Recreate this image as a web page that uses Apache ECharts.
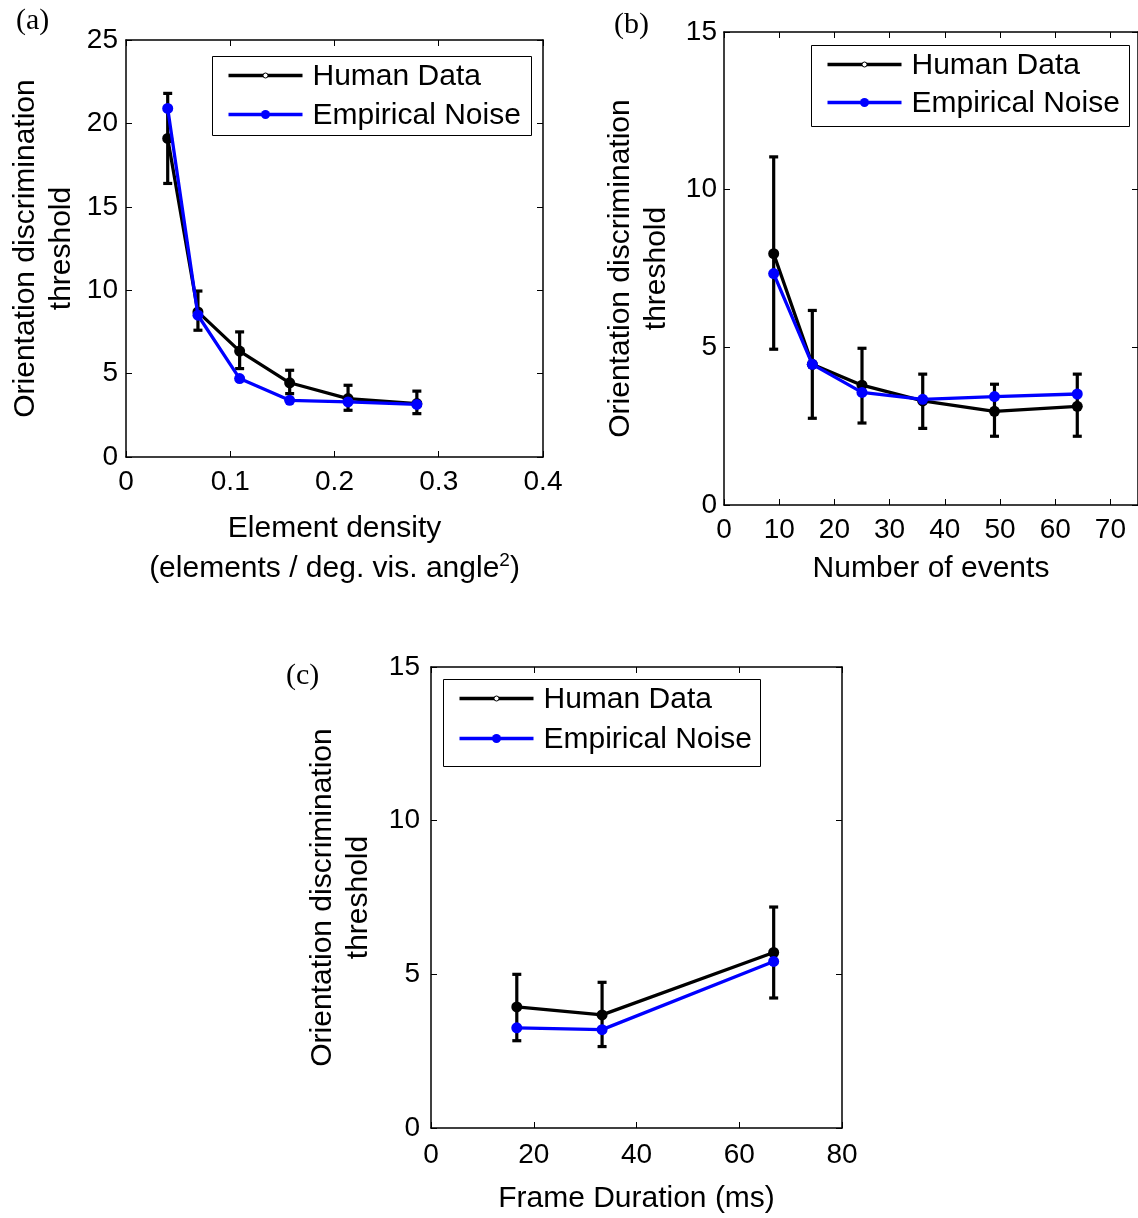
<!DOCTYPE html>
<html>
<head>
<meta charset="utf-8">
<script src="https://cdn.jsdelivr.net/npm/echarts@6/dist/echarts.min.js"></script>
<style>
html,body{margin:0;padding:0;background:#fff;}
#chart{width:1138px;height:1218px;}
</style>
</head>
<body>
<div id="chart"></div>
<script>
// ---------- Panel (a): element density ----------
const aDensity   = [0.040, 0.069, 0.109, 0.157, 0.213, 0.279];
const aHuman     = [19.1, 8.7, 6.35, 4.45, 3.5, 3.2];
const aHumanLow  = [16.4, 7.6, 5.3, 3.8, 2.8, 2.6];
const aHumanHigh = [21.8, 9.95, 7.5, 5.2, 4.3, 3.95];
const aNoise     = [20.9, 8.5, 4.7, 3.4, 3.3, 3.15];

// ---------- Panel (b): number of events ----------
const bEvents    = [9, 16, 25, 36, 49, 64];
const bHuman     = [7.97, 4.46, 3.8, 3.3, 2.97, 3.13];
const bHumanLow  = [4.94, 2.75, 2.6, 2.43, 2.18, 2.18];
const bHumanHigh = [11.04, 6.17, 4.97, 4.15, 3.83, 4.15];
const bNoise     = [7.34, 4.46, 3.57, 3.35, 3.44, 3.52];

// ---------- Panel (c): frame duration ----------
const cDuration  = [16.7, 33.3, 66.7];
const cHuman     = [3.94, 3.68, 5.71];
const cHumanLow  = [2.84, 2.65, 4.23];
const cHumanHigh = [5.0, 4.74, 7.19];
const cNoise     = [3.26, 3.2, 5.42];

// ---------- Text ----------
const seriesNames = ['Human Data', 'Empirical Noise'];
const panelLabels = ['(a)', '(b)', '(c)'];
const yTitle = 'Orientation discrimination\nthreshold';
const xTitles = [
  'Element density\n(elements / deg. vis. angle{sup|2})',
  'Number of events',
  'Frame Duration (ms)'
];

const SANS = '"Liberation Sans", Arial, Helvetica, sans-serif';
const SERIF = '"Liberation Serif", "Times New Roman", serif';
const BLUE = '#0000ff';

const zip = (xs, ys) => xs.map((x, i) => [x, ys[i]]);
const zip3 = (xs, lo, hi) => xs.map((x, i) => [x, lo[i], hi[i]]);

const panels = [
  {grid:{left:126, top:40, width:417, height:417}, xMin:0, xMax:0.4, xInt:0.1, yMax:25, yInt:5,
   x:aDensity, h:aHuman, lo:aHumanLow, hi:aHumanHigh, n:aNoise,
   xLabelMargin:11, yLabelMargin:8, xNameGap:52, yNameGap:46, xLineHeight:40, showMax:true},
  {grid:{left:724, top:32, width:416, height:473}, xMin:0, xMax:75, xInt:10, yMax:15, yInt:5,
   x:bEvents, h:bHuman, lo:bHumanLow, hi:bHumanHigh, n:bNoise,
   xLabelMargin:11, yLabelMargin:7, xNameGap:46, yNameGap:49, xLineHeight:36, showMax:false},
  {grid:{left:431, top:667, width:411, height:465}, xMin:0, xMax:80, xInt:20, yMax:15, yInt:5,
   x:cDuration, h:cHuman, lo:cHumanLow, hi:cHumanHigh, n:cNoise,
   xLabelMargin:13, yLabelMargin:11, xNameGap:53, yNameGap:54, xLineHeight:36, showMax:true}
];

const axisLine = {show:true, onZero:false, lineStyle:{color:'#000', width:1.5}};
const axisTick = {show:true, inside:true, length:6, lineStyle:{color:'#000', width:1}};

const grids = [], xAxes = [], yAxes = [], series = [];

panels.forEach((p, i) => {
  grids.push(Object.assign({containLabel:false}, p.grid));
  xAxes.push({
    gridIndex:i, type:'value', position:'bottom', min:p.xMin, max:p.xMax, interval:p.xInt,
    axisLine, axisTick, splitLine:{show:false},
    axisLabel:{fontSize:28, color:'#000', fontFamily:SANS, margin:p.xLabelMargin, showMaxLabel:p.showMax},
    name:xTitles[i], nameLocation:'middle', nameGap:p.xNameGap,
    nameTextStyle:{fontSize:30, color:'#000', fontFamily:SANS, lineHeight:p.xLineHeight,
      verticalAlign:'top',
      rich:{sup:{fontSize:19, color:'#000', fontFamily:SANS, padding:[0,0,16,0]}}}
  });
  xAxes.push({
    gridIndex:i, type:'value', position:'top', min:p.xMin, max:p.xMax, interval:p.xInt,
    axisLine, axisTick, splitLine:{show:false}, axisLabel:{show:false}
  });
  yAxes.push({
    gridIndex:i, type:'value', position:'left', min:0, max:p.yMax, interval:p.yInt,
    axisLine, axisTick, splitLine:{show:false},
    axisLabel:{fontSize:28, color:'#000', fontFamily:SANS, margin:p.yLabelMargin},
    name:yTitle, nameLocation:'middle', nameGap:p.yNameGap, nameRotate:90,
    nameTextStyle:{fontSize:30, color:'#000', fontFamily:SANS, lineHeight:36}
  });
  yAxes.push({
    gridIndex:i, type:'value', position:'right', min:0, max:p.yMax, interval:p.yInt,
    axisLine, axisTick, splitLine:{show:false}, axisLabel:{show:false}
  });

  series.push({
    type:'custom', xAxisIndex:2*i, yAxisIndex:2*i, z:2,
    data: zip3(p.x, p.lo, p.hi),
    encode:{x:0, y:[1,2]},
    renderItem:(params, api) => {
      const xv = api.value(0);
      const lo = api.coord([xv, api.value(1)]);
      const hi = api.coord([xv, api.value(2)]);
      const cw = 4.5;
      const st = {stroke:'#000', lineWidth:3.2, fill:null};
      return {type:'group', children:[
        {type:'line', shape:{x1:lo[0], y1:lo[1], x2:hi[0], y2:hi[1]}, style:st},
        {type:'line', shape:{x1:lo[0]-cw, y1:lo[1], x2:lo[0]+cw, y2:lo[1]}, style:st},
        {type:'line', shape:{x1:hi[0]-cw, y1:hi[1], x2:hi[0]+cw, y2:hi[1]}, style:st}
      ]};
    }
  });
  series.push({
    name:seriesNames[0], type:'line', xAxisIndex:2*i, yAxisIndex:2*i, z:3,
    data: zip(p.x, p.h), symbol:'circle', symbolSize:11, showSymbol:true,
    lineStyle:{color:'#000', width:3.3}, itemStyle:{color:'#000'}
  });
  series.push({
    name:seriesNames[1], type:'line', xAxisIndex:2*i, yAxisIndex:2*i, z:4,
    data: zip(p.x, p.n), symbol:'circle', symbolSize:11, showSymbol:true,
    lineStyle:{color:BLUE, width:3.3}, itemStyle:{color:BLUE}
  });
});

function legendBox(left, top, w, h, rowGap) {
  const y1 = 19, y2 = 19 + rowGap;
  return {
    type:'group', left:left, top:top,
    children:[
      {type:'rect', shape:{x:0, y:0, width:w, height:h}, style:{fill:'#fff', stroke:'#000', lineWidth:1}},
      {type:'line', shape:{x1:16, y1:y1, x2:90, y2:y1}, style:{stroke:'#000', lineWidth:3.3}},
      {type:'circle', shape:{cx:53, cy:y1, r:2.5}, style:{fill:'#fff', stroke:'#000', lineWidth:1}},
      {type:'text', x:100, y:y1+1, style:{text:seriesNames[0], font:'30px ' + SANS, fill:'#000', textVerticalAlign:'middle'}},
      {type:'line', shape:{x1:16, y1:y2, x2:90, y2:y2}, style:{stroke:BLUE, lineWidth:3.3}},
      {type:'circle', shape:{cx:53, cy:y2, r:4.5}, style:{fill:BLUE}},
      {type:'text', x:100, y:y2+1, style:{text:seriesNames[1], font:'30px ' + SANS, fill:'#000', textVerticalAlign:'middle'}}
    ]
  };
}

const graphics = [
  legendBox(212, 56, 319, 79, 39),
  legendBox(811, 45, 318, 81, 38),
  legendBox(443, 679, 317, 87, 40),
  {type:'text', left:16, top:6, style:{text:panelLabels[0], font:'30px ' + SERIF, fill:'#000'}},
  {type:'text', left:614, top:10, style:{text:panelLabels[1], font:'30px ' + SERIF, fill:'#000'}},
  {type:'text', left:286, top:661, style:{text:panelLabels[2], font:'30px ' + SERIF, fill:'#000'}}
];

const chart = echarts.init(document.getElementById('chart'), null, {renderer:'canvas'});
chart.setOption({
  animation:false,
  backgroundColor:'#fff',
  grid:grids, xAxis:xAxes, yAxis:yAxes, series:series,
  graphic:graphics
});
</script>
</body>
</html>
